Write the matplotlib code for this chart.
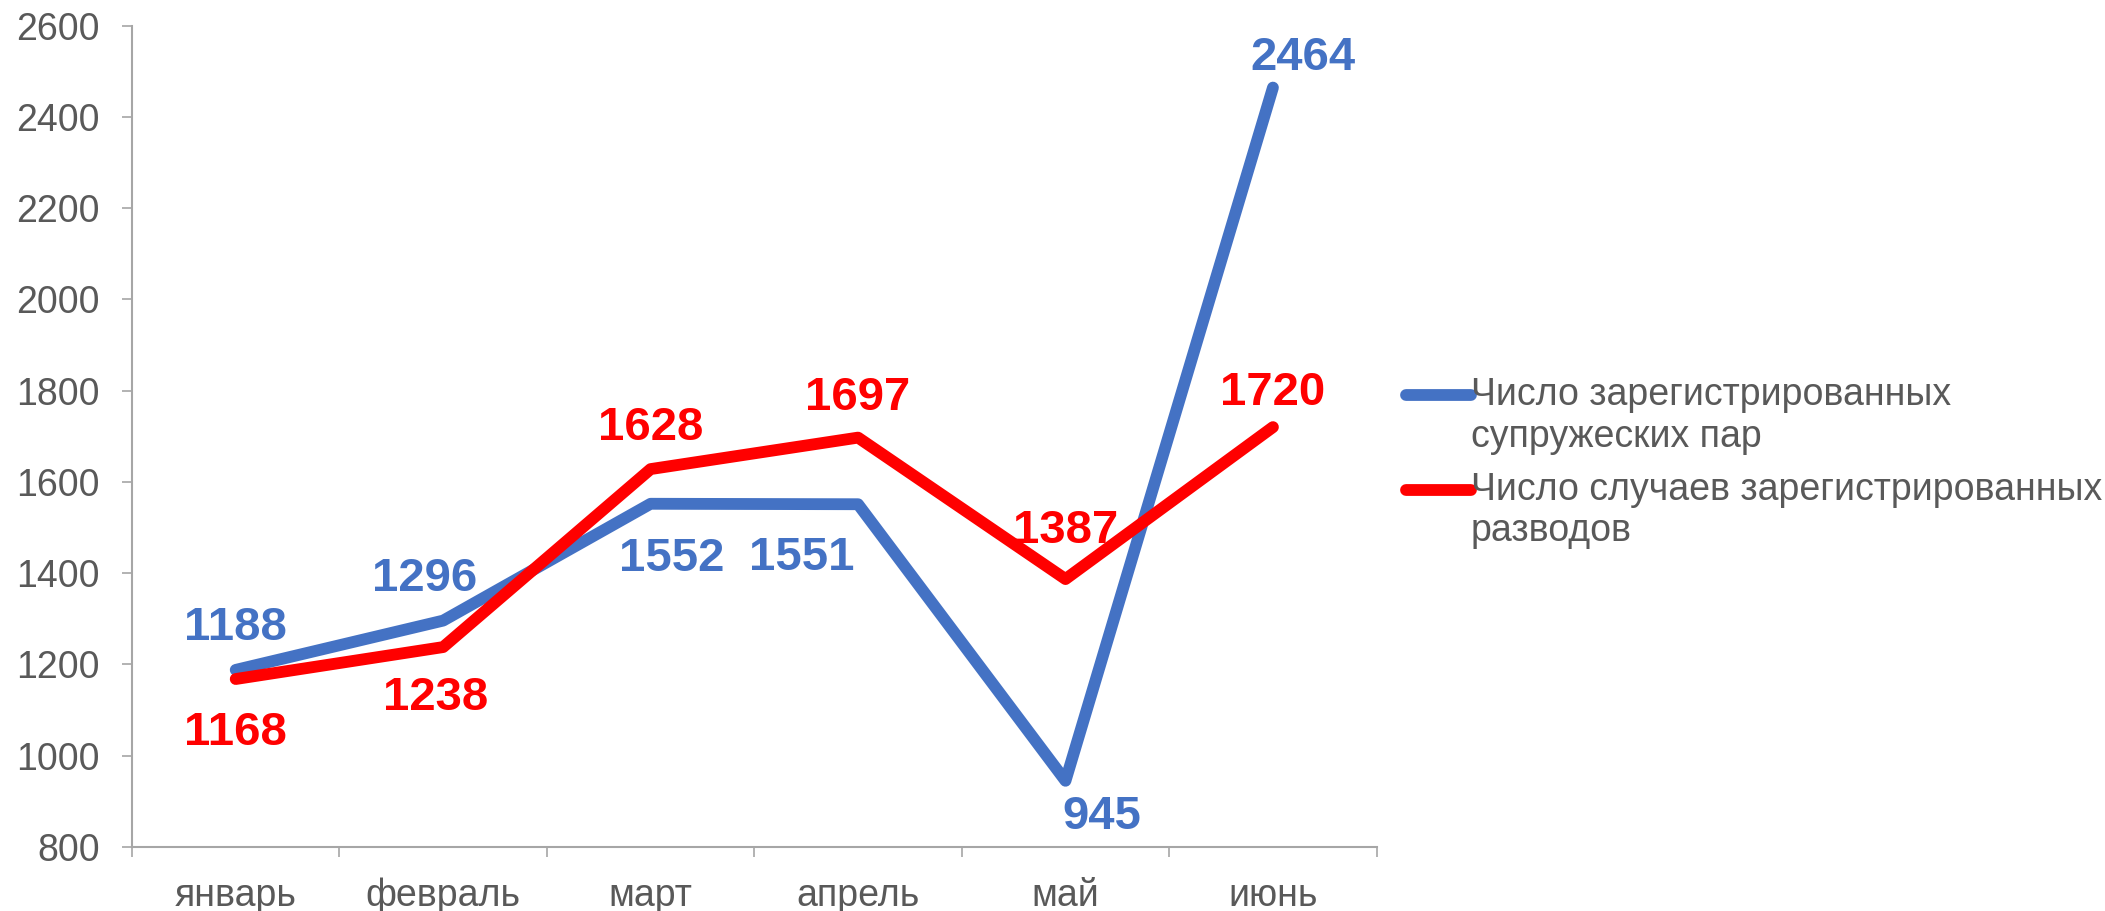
import matplotlib
matplotlib.use("Agg")
import matplotlib.pyplot as plt
from matplotlib.ticker import FixedLocator
from matplotlib.legend_handler import HandlerLine2D

# data
months = ['январь', 'февраль', 'март', 'апрель', 'май', 'июнь']
marriages = [1188, 1296, 1552, 1551, 945, 2464]
divorces = [1168, 1238, 1628, 1697, 1387, 1720]
label_marriages = 'Число зарегистрированных\nсупружеских пар'
label_divorces = 'Число случаев зарегистрированных\nразводов'

# label offsets in pixels (dx, dy), placed like in the source chart
off_marriages = [(0, 42), (-19, 42), (21, -55), (-56, -54), (36, -36), (30, 30)]
off_divorces = [(0, -54), (-8, -51), (0, 41), (0, 40), (0, 48), (0, 34)]

BLUE = '#4472C4'
RED = '#FF0000'
GREY = '#595959'
AXIS = '#A6A6A6'

plt.rcParams['font.family'] = ['Liberation Sans', 'DejaVu Sans']


class FirstLineHandler(HandlerLine2D):
    # put the legend line next to the first line of a wrapped label
    def create_artists(self, legend, orig_handle, xdescent, ydescent,
                       width, height, fontsize, trans):
        arts = super().create_artists(legend, orig_handle, xdescent, ydescent,
                                      width, height, fontsize, trans)
        for a in arts:
            a.set_ydata([y + 0.58 * fontsize for y in a.get_ydata()])
        return arts


fig = plt.figure(figsize=(21.05, 9.11), dpi=100)
ax = fig.add_axes([0.0627, 0.0703, 0.5913, 0.9017])

x = list(range(len(months)))
line_kw = dict(linewidth=8.5, solid_capstyle='round', solid_joinstyle='round')
ax.plot(x, marriages, color=BLUE, label=label_marriages, **line_kw)
ax.plot(x, divorces, color=RED, label=label_divorces, **line_kw)

for xi, v, (dx, dy) in zip(x, marriages, off_marriages):
    ax.annotate(str(v), (xi, v), xytext=(dx, dy), textcoords='offset pixels',
                ha='center', va='center', fontsize=34, fontweight='bold', color=BLUE)
for xi, v, (dx, dy) in zip(x, divorces, off_divorces):
    ax.annotate(str(v), (xi, v), xytext=(dx, dy), textcoords='offset pixels',
                ha='center', va='center', fontsize=34, fontweight='bold', color=RED)

ax.set_xlim(-0.5, len(months) - 0.5)
ax.set_ylim(800, 2600)
ax.set_yticks(range(800, 2601, 200))
ax.set_xticks(x)
ax.set_xticklabels(months)
ax.xaxis.set_minor_locator(FixedLocator([i - 0.5 for i in range(len(months) + 1)]))

ax.tick_params(axis='x', which='major', length=0, pad=22, labelsize=27, labelcolor=GREY)
ax.tick_params(axis='x', which='minor', length=7.2, width=1.2, color=AXIS, direction='out')
ax.tick_params(axis='y', length=7.2, width=1.2, color=AXIS, pad=16, labelsize=27, labelcolor=GREY)

for side in ['top', 'right']:
    ax.spines[side].set_visible(False)
for side in ['left', 'bottom']:
    ax.spines[side].set_color(AXIS)
    ax.spines[side].set_linewidth(1.5)

leg = fig.legend(loc='upper left', bbox_to_anchor=(0.668, 0.586), frameon=False,
                 fontsize=27, handlelength=1.73, handletextpad=0.0, labelspacing=0.45,
                 borderpad=0, borderaxespad=0,
                 handler_map={plt.Line2D: FirstLineHandler()})
for t in leg.get_texts():
    t.set_color(GREY)

fig.savefig('out.png', dpi=100)
